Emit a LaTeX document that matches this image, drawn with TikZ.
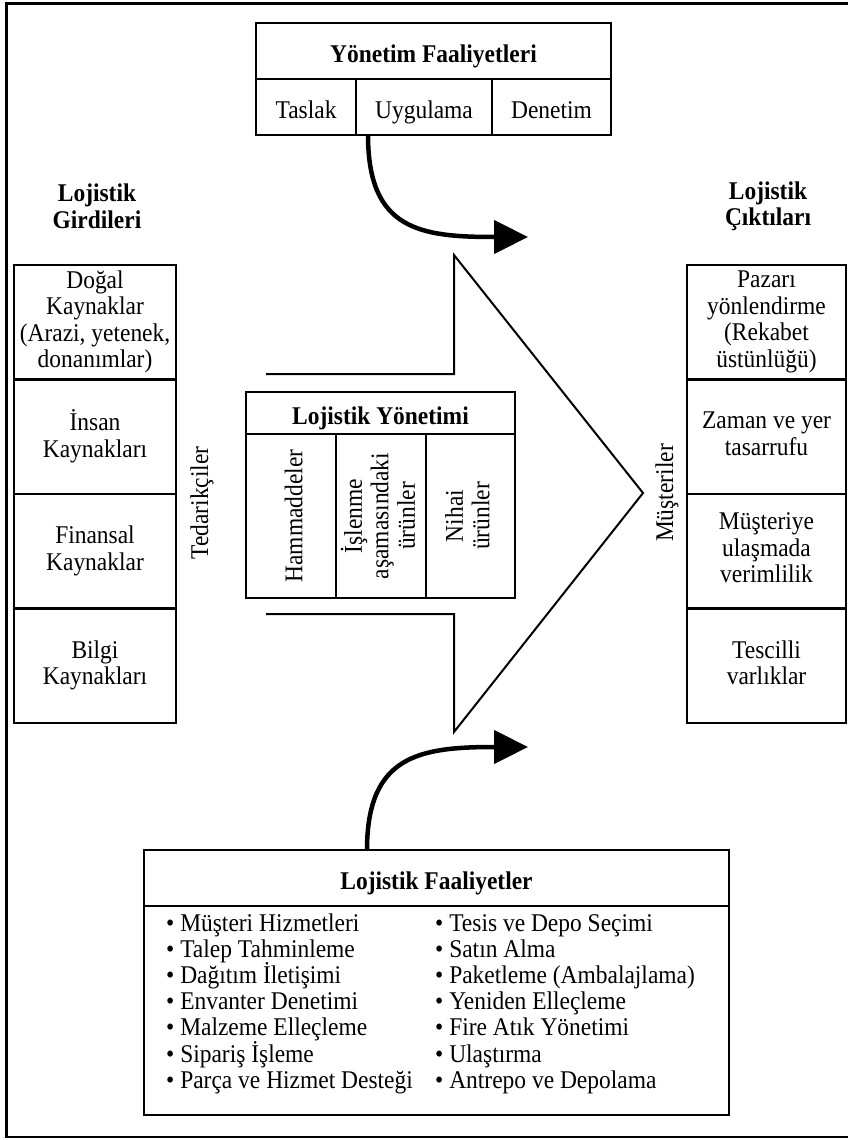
\documentclass[tikz,border=0pt]{standalone}
\usepackage{fontspec}
\setmainfont[FakeStretch=0.92]{Liberation Serif}
\usetikzlibrary{arrows.meta}

\begin{document}
\begin{tikzpicture}[x=1pt, y=-1pt,
  font=\fontsize{25.5}{26.5}\selectfont,
  cell/.style={draw, line width=2.5pt, align=center, inner xsep=2pt, inner ysep=0pt,
    outer sep=0pt, execute at begin node=\rule{0pt}{29pt},
    execute at end node=\rule[-6.5pt]{0pt}{6.5pt}},
  side/.style={cell, minimum width=162pt, minimum height=114.5pt},
  sideR/.style={cell, minimum width=159pt, minimum height=114.5pt},
  item/.style={anchor=base west, inner sep=0pt},
  flow/.style={line width=4.5pt, -{Triangle[length=34pt, width=33pt]}},
]
\path[use as bounding box, fill=white] (0,0) rectangle (847,1140);
\draw[line width=2.5pt] (6.5,3.5) rectangle (849,1137);

% management activities
\node[cell, minimum width=355pt, minimum height=56pt] (yf) at (433.5,51)
  {\textbf{Yönetim Faaliyetleri}};
\node[cell, minimum width=100pt, minimum height=56pt, anchor=north west]
  (taslak) at (yf.south west) {Taslak};
\node[cell, minimum width=136pt, minimum height=56pt, anchor=north west]
  (uygulama) at (taslak.north east) {Uygulama};
\node[cell, minimum width=119pt, minimum height=56pt, anchor=north west]
  (denetim) at (uygulama.north east) {Denetim};

% side titles
\node[align=center] (girdi) at (97,206.5) {\textbf{Lojistik}\\\textbf{Girdileri}};
\node[align=center] (cikti) at (768,206.5) {\textbf{Lojistik}\\\textbf{Çıktıları}};

% inputs
\node[side] (dogal) at (95,322.25)
  {Doğal\\Kaynaklar\\(Arazi, yetenek,\\donanımlar)};
\node[side, anchor=north] (insan) at (dogal.south) {İnsan\\Kaynakları};
\node[side, anchor=north] (finans) at (insan.south) {Finansal\\Kaynaklar};
\node[side, anchor=north] (bilgi) at (finans.south) {Bilgi\\Kaynakları};

% outputs
\node[sideR] (pazar) at (766.5,322.25)
  {Pazarı\\yönlendirme\\(Rekabet\\üstünlüğü)};
\node[sideR, anchor=north] (zaman) at (pazar.south) {Zaman ve yer\\tasarrufu};
\node[sideR, anchor=north] (ulasma) at (zaman.south)
  {Müşteriye\\ulaşmada\\verimlilik};
\node[sideR, anchor=north] (tescil) at (ulasma.south) {Tescilli\\varlıklar};

\node[rotate=90] (tedarik) at (202,503) {Tedarikçiler};
\node[rotate=90] (musteri) at (667,493) {Müşteriler};

% big flow arrow
\draw[line width=2pt] (266,374) -- (454,374) -- (454,255) -- (643,493)
  -- (454,732) -- (454,614) -- (266,614);

% logistics management
\node[cell, minimum width=269pt, minimum height=42pt] (ly) at (380.5,413)
  {\textbf{Lojistik Yönetimi}};
\node[cell, rotate=90, minimum width=164pt, minimum height=90pt]
  (hamm) at (291,516) {Hammaddeler};
\node[cell, rotate=90, minimum width=164pt, minimum height=90pt]
  (islenme) at (381,516) {İşlenme\\aşamasındaki\\ürünler};
\node[cell, rotate=90, minimum width=164pt, minimum height=89pt]
  (nihai) at (470.5,516) {Nihai\\ürünler};

% logistics activities
\node[cell, minimum width=585pt, minimum height=56pt] (lf) at (436.5,878)
  {\textbf{Lojistik Faaliyetler}};
\node[cell, minimum width=585pt, minimum height=209pt, anchor=north]
  (lfbody) at (lf.south) {};
\foreach \txt [count=\i from 0] in {Müşteri Hizmetleri, Talep Tahminleme,
    Dağıtım İletişimi, Envanter Denetimi, Malzeme Elleçleme,
    Sipariş İşleme, Parça ve Hizmet Desteği}
  \node[item] (sol\i) at (166,931+26.2*\i) {\textbullet\ \txt};
\foreach \txt [count=\i from 0] in {Tesis ve Depo Seçimi, Satın Alma,
    Paketleme (Ambalajlama), Yeniden Elleçleme, Fire Atık Yönetimi,
    Ulaştırma, Antrepo ve Depolama}
  \node[item] (sag\i) at (435,931+26.2*\i) {\textbullet\ \txt};

% curved arrows
\coordinate (topTip) at (528,237);
\coordinate (botTip) at (528,747);
\draw[flow] ([xshift=12pt]uygulama.south west) .. controls +(0,95) and (420,237) .. (topTip);
\draw[flow] ([xshift=223pt]lf.north west) .. controls +(0,-95) and (420,747) .. (botTip);
\end{tikzpicture}
\end{document}
